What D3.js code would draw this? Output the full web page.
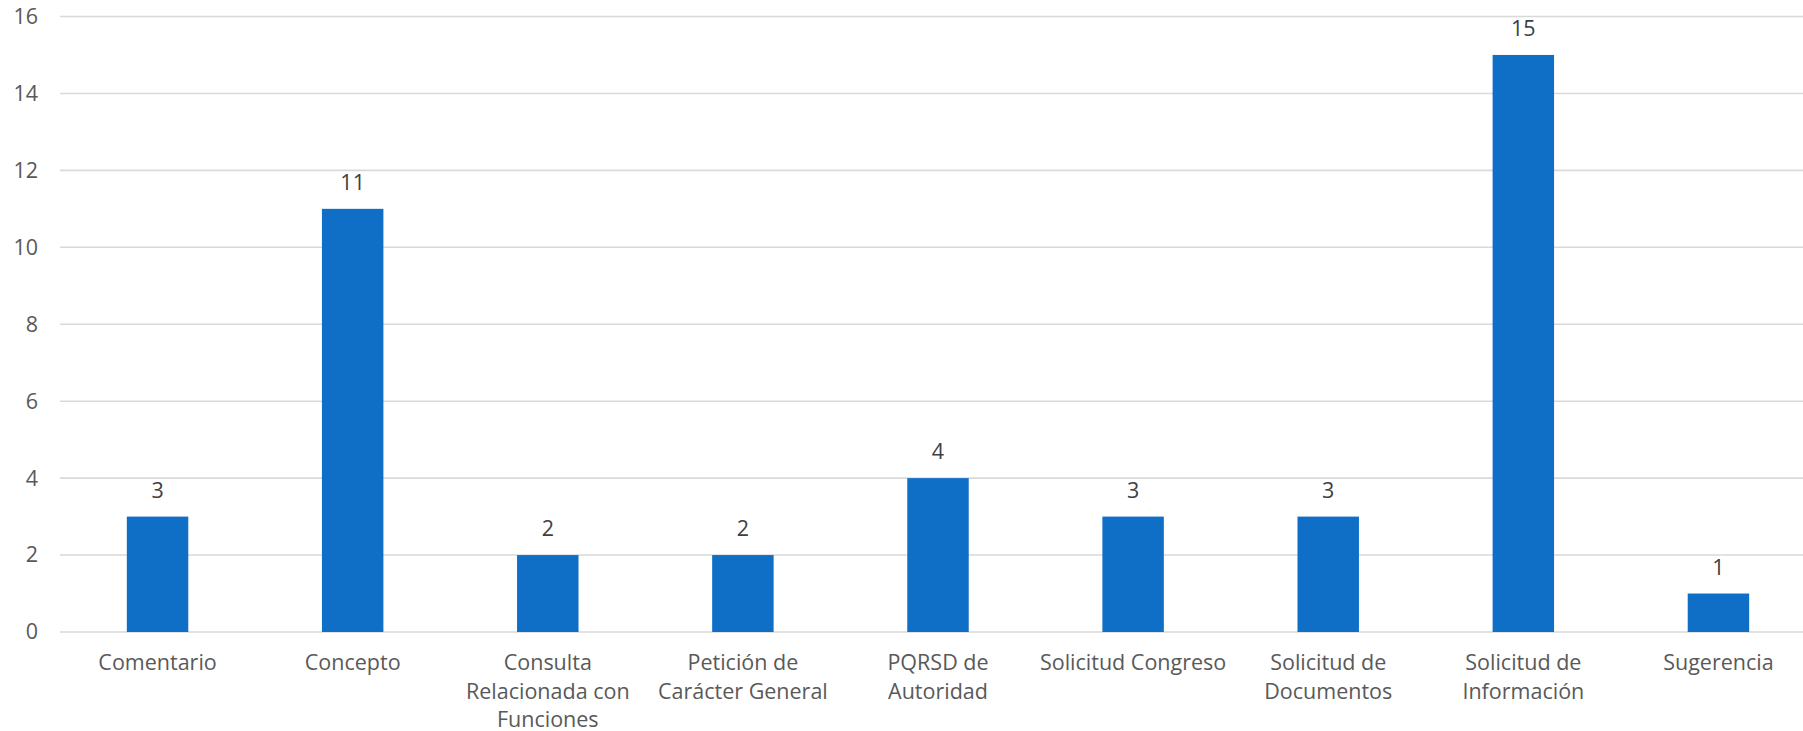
<!DOCTYPE html>
<html>
<head>
<meta charset="utf-8">
<script src="https://cdn.jsdelivr.net/npm/d3@7"></script>
<style>
  html, body { margin: 0; padding: 0; background: #fff; }
  svg { display: block; }
  text { font-family: "Open Sans", "Liberation Sans", sans-serif; }
</style>
</head>
<body>
<svg id="chart" width="1803" height="731"></svg>
<script>
// Request types (each entry is the list of wrapped lines of its label)
const categories = [
  ["Comentario"],
  ["Concepto"],
  ["Consulta", "Relacionada con", "Funciones"],
  ["Petición de", "Carácter General"],
  ["PQRSD de", "Autoridad"],
  ["Solicitud Congreso"],
  ["Solicitud de", "Documentos"],
  ["Solicitud de", "Información"],
  ["Sugerencia"]
];
const values = [3, 11, 2, 2, 4, 3, 3, 15, 1];
const yTicks = [0, 2, 4, 6, 8, 10, 12, 14, 16];

const svg = d3.select("#chart");
const W = 1803, H = 731;
const plotLeft = 60, plotRight = 1816, plotTop = 16.5, plotBottom = 632;
const fontSize = 21.5;

const keys = categories.map(c => c.join(" "));
const pad = 0.685;
const x = d3.scaleBand()
  .domain(keys)
  .range([plotLeft, plotRight])
  .paddingInner(pad)
  .paddingOuter(pad / 2);

const y = d3.scaleLinear().domain([0, 16]).range([plotBottom, plotTop]);

// Horizontal gridlines
svg.append("g")
  .selectAll("line")
  .data(yTicks)
  .join("line")
  .attr("x1", plotLeft)
  .attr("x2", W)
  .attr("y1", d => y(d))
  .attr("y2", d => y(d))
  .attr("stroke", "#d9d9d9")
  .attr("stroke-width", 1.6);

// Y axis labels
const yAxis = d3.axisLeft(y).tickValues(yTicks).tickSize(0).tickPadding(0);
const gy = svg.append("g").attr("transform", `translate(38,0)`).call(yAxis);
gy.select(".domain").remove();
gy.selectAll("text")
  .attr("font-size", fontSize)
  .attr("fill", "#595959")
  .style("font-family", "'Open Sans', sans-serif");

// Bars
svg.append("g")
  .selectAll("rect")
  .data(values)
  .join("rect")
  .attr("x", (d, i) => x(keys[i]))
  .attr("width", x.bandwidth())
  .attr("y", d => y(d))
  .attr("height", d => y(0) - y(d))
  .attr("fill", "#0f6fc6");

// Value labels above bars
svg.append("g")
  .selectAll("text")
  .data(values)
  .join("text")
  .attr("x", (d, i) => x(keys[i]) + x.bandwidth() / 2)
  .attr("y", d => y(d) - 19)
  .attr("text-anchor", "middle")
  .attr("font-size", fontSize)
  .attr("fill", "#404040")
  .text(d => d);

// Category labels
const xAxis = d3.axisBottom(x).tickSize(0).tickFormat(() => "");
const gx = svg.append("g").attr("transform", `translate(0,${plotBottom})`).call(xAxis);
gx.select(".domain").remove();
gx.selectAll(".tick").each(function(d, i) {
  const t = d3.select(this).append("text")
    .attr("text-anchor", "middle")
    .attr("font-size", fontSize)
    .attr("fill", "#595959")
    .style("font-family", "'Open Sans', sans-serif");
  categories[i].forEach((line, j) => {
    t.append("tspan").attr("x", 0).attr("y", 38 + j * 28.5).text(line);
  });
});
</script>
</body>
</html>
